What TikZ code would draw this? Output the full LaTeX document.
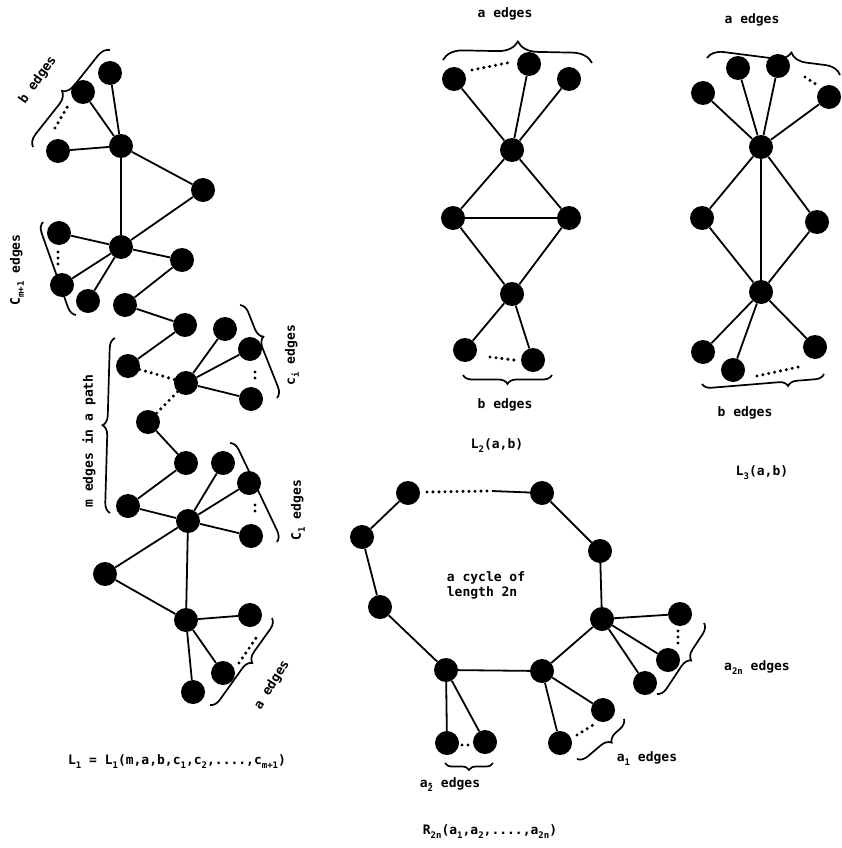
\documentclass[tikz,border=0pt]{standalone}
\usepackage{fontspec}
\setmainfont{DejaVu Sans Mono}
\usetikzlibrary{decorations.pathreplacing}
\newcommand{\lo}[1]{\raisebox{-0.55ex}{\fontsize{9}{9}\selectfont #1}}
\begin{document}
\begin{tikzpicture}[x=1pt,y=-1pt,
  v/.style={circle,fill=black,inner sep=0pt,minimum size=24pt},
  e/.style={line width=1.8pt},
  dotl/.style={line width=3.4pt,dash pattern=on 0pt off 6pt,line cap=round},
  br/.style={decorate,decoration={brace,amplitude=#1},line width=1.7pt},
  br/.default=10pt,
  lab/.style={font=\bfseries\fontsize{13}{15}\selectfont,inner sep=0pt,align=left}]
\useasboundingbox (0,0) rectangle (842,848);
% ---------- L1 ----------
\node[v] (b1) at (110,73) {};
\node[v] (b2) at (83,92) {};
\node[v] (b3) at (58,151) {};
\node[v] (h1) at (121,146) {};
\node[v] (t1) at (203,190) {};
\node[v] (h2) at (121,247) {};
\node[v] (cm1) at (59,233) {};
\node[v] (cm2) at (62,285) {};
\node[v] (cm3) at (88,301) {};
\node[v] (p1) at (182,260) {};
\node[v] (p2) at (125,305) {};
\node[v] (p3) at (185,325) {};
\node[v] (p4) at (128,366) {};
\node[v] (hi) at (186,383) {};
\node[v] (p5) at (148,422) {};
\node[v] (p6) at (186,463) {};
\node[v] (p7) at (128,506) {};
\node[v] (hc) at (188,521) {};
\node[v] (ci1) at (225,329) {};
\node[v] (ci2) at (250,349) {};
\node[v] (ci3) at (251,399) {};
\node[v] (c11) at (223,463) {};
\node[v] (c12) at (249,483) {};
\node[v] (c13) at (251,536) {};
\node[v] (t2) at (105,574) {};
\node[v] (ha) at (186,620) {};
\node[v] (a1) at (250,615) {};
\node[v] (a2) at (223,673) {};
\node[v] (a3) at (193,692) {};
\draw[e] (h1)--(b1) (h1)--(b2) (h1)--(b3) (h1)--(t1) (h1)--(h2) (h2)--(t1)
  (h2)--(cm1) (h2)--(cm2) (h2)--(cm3) (h2)--(p1) (p1)--(p2) (p2)--(p3) (p3)--(p4)
  (p5)--(p6) (p6)--(p7) (p7)--(hc)
  (hi)--(ci1) (hi)--(ci2) (hi)--(ci3)
  (hc)--(c11) (hc)--(c12) (hc)--(c13)
  (hc)--(t2) (t2)--(ha) (hc)--(ha)
  (ha)--(a1) (ha)--(a2) (ha)--(a3);
\draw[dotl] (p4)--(hi) (hi)--(p5);
\coordinate (bd1) at (55,128); \coordinate (bd2) at (69,104);
\draw[dotl] (bd1)--(bd2);
\coordinate (cd1) at (58,252); \coordinate (cd2) at (58,266);
\draw[dotl] (cd1)--(cd2);
\coordinate (id1) at (255,372); \coordinate (id2) at (255,381);
\draw[dotl] (id1)--(id2);
\coordinate (kd1) at (255,505); \coordinate (kd2) at (255,514);
\draw[dotl] (kd1)--(kd2);
\coordinate (ad1) at (239,663); \coordinate (ad2) at (256,638);
\draw[dotl] (ad1)--(ad2);
% braces L1
\coordinate (bb1) at (33,147); \coordinate (bb2) at (110,50);
\draw[br=12pt] (bb1)--(bb2);
\coordinate (cb1) at (76,315); \coordinate (cb2) at (43,222);
\draw[br, decoration={aspect=0.35}] (cb1)--(cb2);
\coordinate (mb1) at (110,513); \coordinate (mb2) at (115,338);
\draw[br] (mb1)--(mb2);
\coordinate (ib1) at (240,305); \coordinate (ib2) at (277,398);
\draw[br, decoration={aspect=0.38}] (ib1)--(ib2);
\coordinate (kb1) at (230,443); \coordinate (kb2) at (277,542);
\draw[br, decoration={aspect=0.4}] (kb1)--(kb2);
\coordinate (ab1) at (272,618); \coordinate (ab2) at (210,705);
\draw[br, decoration={aspect=0.45}] (ab1)--(ab2);
\node[lab,rotate=55] (lb) at (38,80) {b edges};
\node[lab,rotate=90] (lcm) at (17,270) {C\lo{m+1} edges};
\node[lab,rotate=90] (lm) at (89,441) {m edges in a path};
\node[lab,rotate=90] (lci) at (292,355) {c\lo{i} edges};
\node[lab,rotate=90] (lc1) at (298,510) {C\lo{1} edges};
\node[lab,rotate=58] (la) at (272,685) {a edges};
\node[lab] (l1) at (177,762) {L\lo{1} = L\lo{1}(m,a,b,c\lo{1},c\lo{2},....,c\lo{m+1})};
% ---------- L2 ----------
\node[v] (u1) at (454,79) {};
\node[v] (u2) at (529,64) {};
\node[v] (u3) at (569,79) {};
\node[v] (uh) at (512,150) {};
\node[v] (ul) at (453,218) {};
\node[v] (ur) at (569,218) {};
\node[v] (ub) at (512,294) {};
\node[v] (w1) at (465,350) {};
\node[v] (w2) at (533,360) {};
\draw[e] (uh)--(u1) (uh)--(u2) (uh)--(u3) (uh)--(ul) (uh)--(ur) (ul)--(ur)
  (ul)--(ub) (ur)--(ub) (ub)--(w1) (ub)--(w2);
\coordinate (ud1) at (472,70); \coordinate (ud2) at (512,62);
\draw[dotl] (ud1)--(ud2);
\coordinate (wd1) at (490,357); \coordinate (wd2) at (514,360);
\draw[dotl] (wd1)--(wd2);
\coordinate (ub1) at (443,60); \coordinate (ub2) at (592,63);
\draw[br=20pt] (ub1)--(ub2);
\coordinate (wb1) at (552,375); \coordinate (wb2) at (463,375);
\draw[br=9pt] (wb1)--(wb2);
\node[lab] (l2a) at (505,14) {a edges};
\node[lab] (l2b) at (505,405) {b edges};
\node[lab] (l2) at (497,446) {L\lo{2}(a,b)};
% ---------- L3 ----------
\node[v] (s1) at (703,93) {};
\node[v] (s2) at (738,68) {};
\node[v] (s3) at (778,66) {};
\node[v] (s4) at (829,97) {};
\node[v] (sh) at (761,147) {};
\node[v] (sl) at (702,218) {};
\node[v] (sr) at (817,222) {};
\node[v] (sb) at (761,292) {};
\node[v] (r1) at (703,352) {};
\node[v] (r2) at (733,370) {};
\node[v] (r3) at (815,347) {};
\draw[e] (sh)--(s1) (sh)--(s2) (sh)--(s3) (sh)--(s4) (sh)--(sl) (sh)--(sr) (sh)--(sb)
  (sl)--(sb) (sr)--(sb) (sb)--(r1) (sb)--(r2) (sb)--(r3);
\coordinate (sd1) at (805,77); \coordinate (sd2) at (817,85);
\draw[dotl] (sd1)--(sd2);
\coordinate (rd1) at (757,376); \coordinate (rd2) at (803,366);
\draw[dotl] (rd1)--(rd2);
\coordinate (sb1) at (707,58); \coordinate (sb2) at (840,75);
\draw[br=16pt, decoration={aspect=0.62}] (sb1)--(sb2);
\coordinate (rb1) at (824,374); \coordinate (rb2) at (702,384);
\draw[br=9pt, decoration={aspect=0.3}] (rb1)--(rb2);
\node[lab] (l3a) at (752,20) {a edges};
\node[lab] (l3b) at (745,413) {b edges};
\node[lab] (l3) at (762,473) {L\lo{3}(a,b)};
% ---------- R2n ----------
\node[v] (q1) at (408,493) {};
\node[v] (q2) at (542,493) {};
\node[v] (q3) at (600,551) {};
\node[v] (q4) at (602,619) {};
\node[v] (q5) at (542,671) {};
\node[v] (q6) at (446,670) {};
\node[v] (q7) at (380,607) {};
\node[v] (q8) at (362,537) {};
\node[v] (x1) at (680,614) {};
\node[v] (x2) at (668,660) {};
\node[v] (x3) at (645,683) {};
\node[v] (y1) at (603,710) {};
\node[v] (y2) at (560,743) {};
\node[v] (z1) at (447,743) {};
\node[v] (z2) at (485,742) {};
\coordinate (qm) at (492,491);
\draw[e] (qm)--(q2) (q2)--(q3) (q3)--(q4) (q4)--(q5) (q5)--(q6) (q6)--(q7) (q7)--(q8) (q8)--(q1)
  (q4)--(x1) (q4)--(x2) (q4)--(x3) (q5)--(y1) (q5)--(y2) (q6)--(z1) (q6)--(z2);
\coordinate (qd1) at (427,492); \coordinate (qd2) at (487,491);
\draw[dotl] (qd1)--(qd2);
\coordinate (xd1) at (678,631); \coordinate (xd2) at (678,645);
\draw[dotl] (xd1)--(xd2);
\coordinate (yd1) at (577,735); \coordinate (yd2) at (593,725);
\draw[dotl] (yd1)--(yd2);
\coordinate (zd1) at (462,745); \coordinate (zd2) at (470,745);
\draw[dotl] (zd1)--(zd2);
\coordinate (xb1) at (704,623); \coordinate (xb2) at (657,694);
\draw[br, decoration={aspect=0.45}] (xb1)--(xb2);
\coordinate (yb1) at (624,719); \coordinate (yb2) at (577,759);
\draw[br, decoration={aspect=0.4}] (yb1)--(yb2);
\coordinate (zb1) at (493,763); \coordinate (zb2) at (445,763);
\draw[br=7pt] (zb1)--(zb2);
\node[lab] (cyc) at (486,585) {a cycle of\\length 2n};
\node[lab] (l2n) at (757,668) {a\lo{2n} edges};
\node[lab] (la1) at (647,759) {a\lo{1} edges};
\node[lab] (la2) at (450,785) {a\lo{\rlap{\raisebox{0.62em}{-}}2} edges};
\node[lab] (r2n) at (490,832) {R\lo{2n}(a\lo{1},a\lo{2},....,a\lo{2n})};
\end{tikzpicture}
\end{document}
